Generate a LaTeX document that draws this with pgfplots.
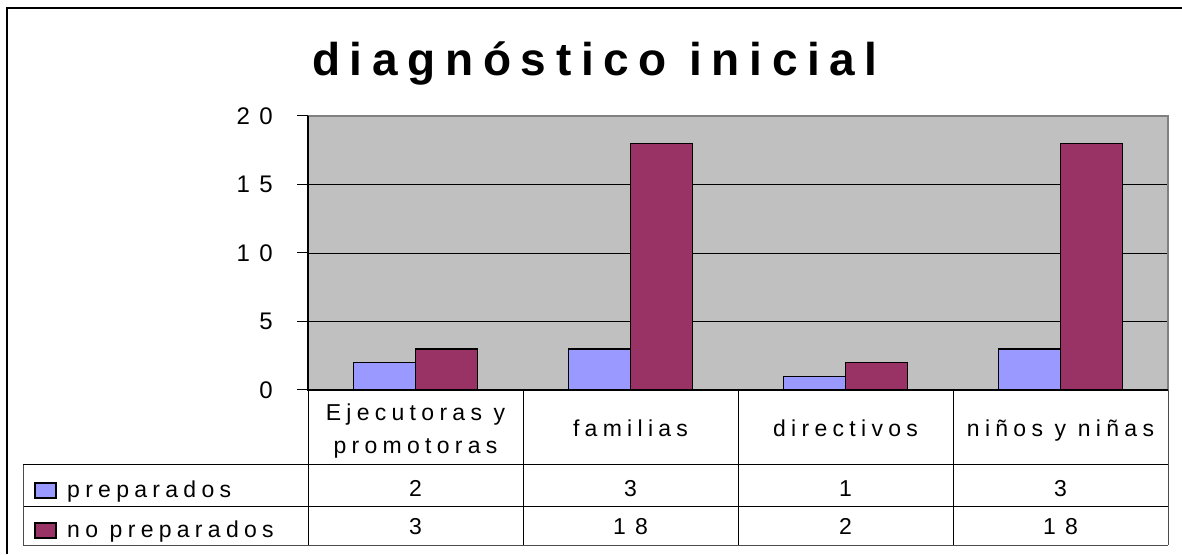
\documentclass[border=0pt]{standalone}
\usepackage{fontspec}
\setmainfont{Liberation Sans}[LetterSpace=23]
\newfontfamily\titlefont{Liberation Sans}[LetterSpace=21]
\newfontfamily\tickfont{Liberation Sans}[LetterSpace=40]
\usepackage{pgfplots}
\usepackage{pgfplotstable}
\pgfplotsset{compat=1.18}
\definecolor{prepblue}{HTML}{9999FF}
\definecolor{noprep}{HTML}{993366}
\definecolor{plotgray}{HTML}{C0C0C0}
\definecolor{bordergray}{HTML}{808080}
\pgfplotstableread{
x prep noprep
0 2 3
1 3 18
2 1 2
3 3 18
}\datatable
\begin{document}
\begin{tikzpicture}[x=1pt,y=1pt]
\useasboundingbox (0,0) rectangle (1182,554);
% outer frame (extends past right and bottom)
\draw[black, line width=1.5pt] (7,0) -- (7,546) -- (1182,546);
% title
\node[anchor=base, inner sep=0pt, font=\titlefont\bfseries\fontsize{46}{46}\selectfont] at (595,478) {diagnóstico inicial};
\begin{axis}[
  at={(308pt,164pt)}, anchor=south west,
  width=860pt, height=274pt, scale only axis,
  xmin=-0.5, xmax=3.5, ymin=0, ymax=20,
  clip=false,
  axis background/.style={fill=plotgray},
  axis line style={draw=none},
  ytick={0,5,10,15,20},
  ytick pos=left,
  tick align=outside,
  major tick length=11pt,
  ytick style={draw=black, line width=1pt},
  xtick style={draw=none},
  ymajorgrids,
  major grid style={black, line width=0.8pt},
  /pgf/number format/assume math mode=true,
  yticklabel style={anchor=east, inner sep=0pt, xshift=-24pt, font=\tickfont\fontsize{24}{24}\selectfont},
  xtick={0,1,2,3},
  xticklabels={{Ejecutoras y\\promotoras},{familias\vphantom{Ejpy}},{directivos\vphantom{Ejpy}},{niños y niñas\vphantom{Ejpy}}},
  xticklabel style={anchor=center, yshift=-30pt, align=center, inner sep=0pt, font=\fontsize{23}{33}\selectfont},
]
\addplot[ybar, bar width=62pt, bar shift=-31pt, fill=prepblue, draw=black, line width=1.5pt] table[x=x, y=prep]{\datatable};
\addplot[ybar, bar width=62pt, bar shift=31pt, fill=noprep, draw=black, line width=1.5pt] table[x=x, y=noprep]{\datatable};
% table values
\addplot[draw=none, mark=none, forget plot, nodes near coords, point meta=explicit symbolic,
  every node near coord/.style={anchor=base, text=black, inner sep=0pt, font=\tickfont\fontsize{23}{23}\selectfont}]
  table[x=x, y expr=-7.81, meta=prep]{\datatable};
\addplot[draw=none, mark=none, forget plot, nodes near coords, point meta=explicit symbolic,
  every node near coord/.style={anchor=base, text=black, inner sep=0pt, font=\tickfont\fontsize{23}{23}\selectfont}]
  table[x=x, y expr=-10.58, meta=noprep]{\datatable};
% plot-area border
\draw[bordergray, line width=1.5pt] (rel axis cs:0,1) -- (rel axis cs:1,1) -- (rel axis cs:1,0);
\draw[black, line width=1.2pt] (rel axis cs:0,1) -- (rel axis cs:0,0) -- (rel axis cs:1,0);
\end{axis}
% data table grid
\draw[black, line width=1pt] (23,89.5) -- (1168,89.5);
\draw[black, line width=1pt] (23,47.5) -- (1168,47.5);
\draw[black!70, line width=1pt] (23,9) -- (1168,9);
\draw[black!70, line width=1pt] (23,9) -- (23,89.5);
\foreach \xx in {308,523,738,953} \draw[black, line width=1pt] (\xx,164) -- (\xx,9);
\draw[black!70, line width=1pt] (1168,164) -- (1168,9);
% legend keys and names
\draw[black, line width=1.2pt, fill=prepblue] (35,56) rectangle (56,71);
\draw[black, line width=1.2pt, fill=noprep] (35,16) rectangle (56,31);
\node[anchor=base west, inner sep=0pt, font=\fontsize{23}{23}\selectfont] at (67,57) {preparados};
\node[anchor=base west, inner sep=0pt, font=\fontsize{23}{23}\selectfont] at (67,17) {no preparados};
\end{tikzpicture}
\end{document}
